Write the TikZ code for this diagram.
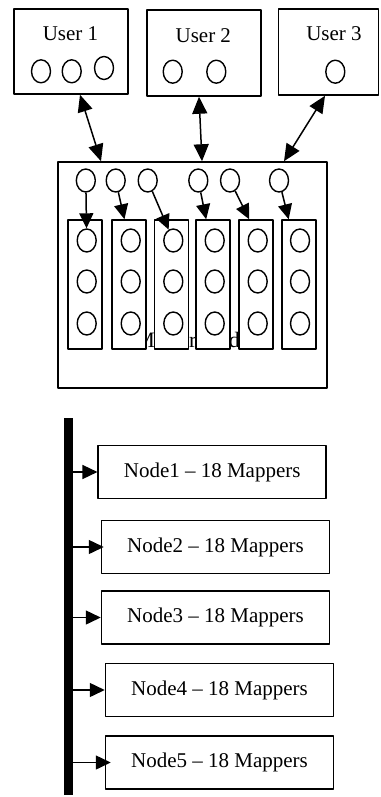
\documentclass[tikz,border=0pt]{standalone}
\usepackage{fontspec}
\setmainfont{Liberation Serif}
\usetikzlibrary{shapes.geometric,arrows.meta}

\begin{document}
\begin{tikzpicture}[x=1pt, y=-1pt, line join=round,
	box/.style={draw, line width=1.5pt, inner sep=0pt, fill=white},
	dot/.style={draw, ellipse, line width=1.4pt, inner sep=0pt, minimum width=19pt, minimum height=23pt},
	lbl/.style={font=\fontsize{21}{25}\selectfont, inner sep=0pt, anchor=base},
	tip/.style={-{Triangle[length=15pt,width=14pt]}, line width=1.5pt},
	dbl/.style={{Triangle[length=17pt,width=15pt]}-{Triangle[length=17pt,width=15pt]}, line width=1.5pt}]
	\useasboundingbox (0,0) rectangle (380,797);
	% users
	\node[box, minimum width=114pt, minimum height=85pt] (u1) at (71,51.5) {};
	\node[box, minimum width=114pt, minimum height=86pt] (u2) at (204,53) {};
	\node[box, minimum width=100pt, minimum height=86pt] (u3) at (328.25,52) {};
	\node[lbl] (u1lbl) at (70.5,40.7) {User 1};
	\node[lbl] (u2lbl) at (203.3,42.7) {User 2};
	\node[lbl] (u3lbl) at (334,40.7) {User 3};
	\foreach \n/\x/\y in {a/41/71.3, b/71.7/71.3, c/104/68} \node[dot] (u1\n) at (\x,\y) {};
	\foreach \n/\x in {a/172.7, b/216.3} \node[dot] (u2\n) at (\x,71.7) {};
	\node[dot] (u3a) at (335.3,71.7) {};
	% master
	\node[box, minimum width=269pt, minimum height=226pt] (main) at (192.5,275) {};
	\node[lbl, font=\fontsize{22}{26}\selectfont] (mlbl) at (192.5,347) {Master Node};
	\foreach \i/\x in {1/85,2/129,3/171.5,4/213,5/256,6/299}
		\node[box, minimum width=34pt, minimum height=129pt] (col\i) at (\x,284.5) {};
	\foreach \i/\x in {1/86.7,2/130.7,3/173.3,4/214.7,5/257.7,6/300}
		\foreach \j/\y in {1/240.5,2/281.5,3/323.5}
			\node[dot] (c\i\j) at (\x,\y) {};
	\foreach \i/\x in {1/85.8,2/115.7,3/147.7,4/198.3,5/230,6/279} \node[dot] (t\i) at (\x,180.5) {};
	\draw[tip] (t1)--(c11);
	\draw[tip] (t2)--(col2.94);
	\draw[tip] (t3)--(c31);
	\draw[tip] (t4)--(col4.96);
	\draw[tip] (t5)--(col5.96);
	\draw[tip] (t6)--(col6.99);
	\draw[dbl] ([xshift=9pt]u1.south)--([xshift=-91.5pt]main.north);
	\draw[dbl] ([xshift=-5pt]u2.south)--([xshift=9.5pt]main.north);
	\draw[dbl] ([xshift=-3.25pt]u3.south)--([xshift=91.5pt]main.north);
	% cluster nodes
	\node[fill, minimum width=9pt, minimum height=377pt, inner sep=0pt] (bus) at (68.5,606.5) {};
	\foreach \i/\x/\y in {1/212.2/472, 2/215.5/547, 3/215.5/617.5, 4/219.5/690, 5/219.5/762.5}
		\node[box, minimum width=228pt, minimum height=52.6pt, font=\fontsize{21}{25}\selectfont] (n\i) at (\x,\y) {Node\i{} – 18 Mappers};
	\foreach \i/\s in {1/0,2/3,3/0,4/0,5/6}
		\draw[tip] (bus.east |- n\i.west)--([xshift=\s pt]n\i.west);
\end{tikzpicture}
\end{document}
